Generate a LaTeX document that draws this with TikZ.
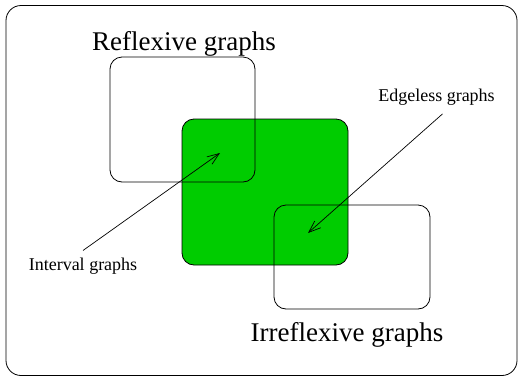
\documentclass[tikz,border=0pt]{standalone}
\usepackage{fontspec}
\setmainfont{Liberation Serif}
\usetikzlibrary{arrows.meta}
\definecolor{venngreen}{RGB}{0,204,0}
\begin{document}
\begin{tikzpicture}[x=1pt,y=-1pt,
    box/.style={draw=black, line width=0.8pt, rounded corners=12pt, inner sep=0pt},
    biglabel/.style={font=\fontsize{27}{30}\selectfont, anchor=base},
    smalllabel/.style={font=\fontsize{18}{20}\selectfont, anchor=base},
    pointer/.style={line width=0.7pt, -{Straight Barb[length=12pt,width=9pt]}}]
      \useasboundingbox (0,0) rectangle (522,378);
      % Outer frame
      \node[box, rounded corners=15pt, minimum width=511pt, minimum height=370pt] (frame) at (261.5,190.5) {};

      % Green box first, outlines over it
      \node[box, fill=venngreen, minimum width=166pt, minimum height=146pt] (edgeless) at (265,192) {};
      \node[box, minimum width=145pt, minimum height=125pt] (reflexive) at (182.5,119.5) {};
      \node[box, minimum width=156pt, minimum height=104pt] (irreflexive) at (352,257) {};

      % Labels
      \node[biglabel] (reflexivelabel) at (184,50.5) {Reflexive graphs};
      \node[biglabel] (irreflexivelabel) at (347,341.5) {Irreflexive graphs};
      \node[smalllabel] (edgelesslabel) at (436.5,101.5) {Edgeless graphs};
      \node[smalllabel] (intervallabel) at (83,270.5) {Interval graphs};

      % Arrow tips
      \coordinate (intervaltip) at (220,153);
      \coordinate (edgelesstip) at (308,233);
      \draw[pointer] ([yshift=4pt]intervallabel.north) -- (intervaltip);
      \draw[pointer] ([xshift=6pt,yshift=-5pt]edgelesslabel.south) -- (edgelesstip);
    \end{tikzpicture}
\end{document}
